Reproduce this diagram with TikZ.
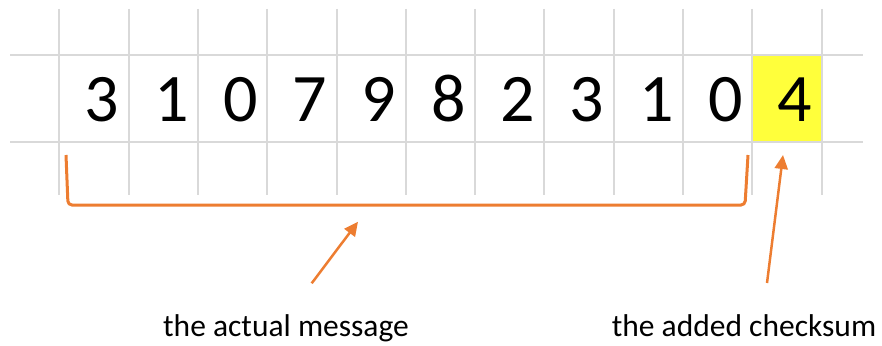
\documentclass[tikz,border=0pt]{standalone}
\usepackage{fontspec}
\setmainfont{Carlito}
\usetikzlibrary{arrows.meta}
\definecolor{gridgray}{HTML}{D9D9D9}
\definecolor{accent}{HTML}{ED7D31}
\definecolor{hilite}{HTML}{FFFF3B}
\begin{document}
\begin{tikzpicture}[x=1pt,y=-1pt,
  gridline/.style={draw=gridgray,line width=2pt},
  digit/.style={anchor=base,inner sep=0pt,font=\fontsize{68}{68}\selectfont},
  label/.style={anchor=base,inner sep=0pt,font=\fontsize{31.5}{31.5}\selectfont},
  bracketline/.style={draw=accent,line width=3pt,rounded corners=4pt},
  pointer/.style={draw=accent,line width=2.5pt,-{Triangle[length=14pt,width=13pt]}}]
\useasboundingbox (0,0) rectangle (882,345);
% highlighted cell
\fill[hilite] (752.3,55) rectangle (821.6,141.7);
% grid
\foreach \k in {0,...,11}{
  \draw[gridline] ({59.3+69.3*\k},9) -- ({59.3+69.3*\k},195);
}
\draw[gridline] (10,55) -- (863,55);
\draw[gridline] (10,141.7) -- (863,141.7);
% digits
\foreach \d [count=\i] in {3,1,0,7,9,8,2,3,1,0,4}{
  \node[digit] (d\i) at ({59.3+69.3*(\i-1)+34.65+8},121.5) {\d};
}
% bracket
\coordinate (bl) at (66,155);
\coordinate (br) at (748,155);
\draw[bracketline] (bl) -- (68,205) -- (745,205) -- (br);
% labels
\node[label] (msg) at (286,336) {the actual message};
\node[label] (chk) at (744,336) {the added checksum};
% arrows
\coordinate (msgtail) at (311.7,283.3);
\coordinate (msgtip) at (358,221.7);
\coordinate (chktail) at (767,283);
\coordinate (chktip) at (783,155);
\draw[pointer] (msgtail) -- (msgtip);
\draw[pointer] (chktail) -- (chktip);
\end{tikzpicture}
\end{document}
